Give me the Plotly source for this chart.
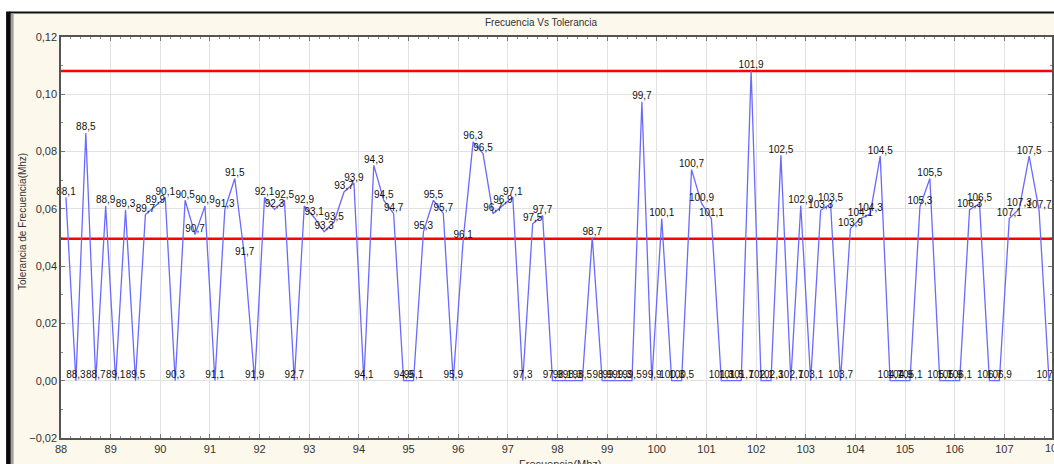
import plotly.graph_objects as go

freq = [88.1, 88.3, 88.5, 88.7, 88.9, 89.1, 89.3, 89.5, 89.7, 89.9,
        90.1, 90.3, 90.5, 90.7, 90.9, 91.1, 91.3, 91.5, 91.7, 91.9,
        92.1, 92.3, 92.5, 92.7, 92.9, 93.1, 93.3, 93.5, 93.7, 93.9,
        94.1, 94.3, 94.5, 94.7, 94.9, 95.1, 95.3, 95.5, 95.7, 95.9,
        96.1, 96.3, 96.5, 96.7, 96.9, 97.1, 97.3, 97.5, 97.7, 97.9,
        98.1, 98.3, 98.5, 98.7, 98.9, 99.1, 99.3, 99.5, 99.7, 99.9,
        100.1, 100.3, 100.5, 100.7, 100.9, 101.1, 101.3, 101.5, 101.7, 101.9,
        102.1, 102.3, 102.5, 102.7, 102.9, 103.1, 103.3, 103.5, 103.7, 103.9,
        104.1, 104.3, 104.5, 104.7, 104.9, 105.1, 105.3, 105.5, 105.7, 105.9,
        106.1, 106.3, 106.5, 106.7, 106.9, 107.1, 107.3, 107.5, 107.7, 107.9]

tolerance = [0.064, 0.0, 0.0865, 0.0, 0.061, 0.0, 0.0597, 0.0, 0.058, 0.061,
             0.064, 0.0, 0.063, 0.051, 0.061, 0.0, 0.0598, 0.0706, 0.043, 0.0,
             0.064, 0.0598, 0.063, 0.0, 0.061, 0.057, 0.052, 0.0554, 0.0659, 0.069,
             0.0, 0.0752, 0.063, 0.0583, 0.0, 0.0, 0.052, 0.063, 0.0584, 0.0,
             0.049, 0.0834, 0.0793, 0.0583, 0.0612, 0.0641, 0.0, 0.0548, 0.0577, 0.0,
             0.0, 0.0, 0.0, 0.0501, 0.0, 0.0, 0.0, 0.0, 0.0974, 0.0,
             0.0566, 0.0, 0.0, 0.0737, 0.062, 0.0566, 0.0, 0.0, 0.0, 0.1082,
             0.0, 0.0, 0.0787, 0.0, 0.0612, 0.0, 0.0595, 0.0618, 0.0, 0.0531,
             0.0566, 0.0583, 0.0784, 0.0, 0.0, 0.0, 0.0607, 0.0706, 0.0, 0.0,
             0.0, 0.0597, 0.0618, 0.0, 0.0, 0.0566, 0.060, 0.0784, 0.0595, 0.0]

upper_limit = 0.1081
lower_limit = 0.0496
limit_x = [88, 108]

x_range = [88, 107.96]
x_ticks = [88, 89, 90, 91, 92, 93, 94, 95, 96, 97, 98, 99, 100, 101, 102, 103, 104, 105, 106, 107]
x_last_tick = 108
y_ticks = [-0.02, 0.0, 0.02, 0.04, 0.06, 0.08, 0.10, 0.12]

point_labels = [f"{f:.1f}".replace(".", ",") for f in freq]

W, H = 1054, 464
L, R, T, B = 61, 0, 37, H - 438
PW, PH = W - L - R, H - T - B


def px(xw):
    return (xw - L) / PW


def py(yw):
    return (H - B - yw) / PH


FONT = "Liberation Sans, Arial, sans-serif"

fig = go.Figure()

fig.add_trace(go.Scatter(
    x=limit_x, y=[upper_limit, upper_limit], mode="lines",
    line=dict(color="#ff0000", width=2.5), hoverinfo="skip", showlegend=False))
fig.add_trace(go.Scatter(
    x=limit_x, y=[lower_limit, lower_limit], mode="lines",
    line=dict(color="#ff0000", width=2.5), hoverinfo="skip", showlegend=False))

fig.add_trace(go.Scatter(
    x=freq, y=tolerance, mode="lines+text",
    text=point_labels, textposition="top center",
    textfont=dict(family=FONT, size=10, color="#111111"),
    line=dict(color="#6a6aff", width=1.3),
    cliponaxis=False, showlegend=False))

shapes = [
    dict(type="rect", xref="paper", yref="paper",
         x0=px(10), x1=px(W + 20), y0=py(H + 20), y1=py(12.5),
         fillcolor="#fdf8ec", line=dict(color="#111111", width=2), layer="below"),
    dict(type="rect", xref="paper", yref="paper",
         x0=0, x1=1, y0=0, y1=1,
         fillcolor="#ffffff", line=dict(width=0), layer="below"),
    dict(type="line", xref="paper", yref="paper",
         x0=px(8), x1=px(8), y0=py(H + 20), y1=py(11.5),
         line=dict(color="#0a0a0a", width=4)),
    dict(type="line", xref="paper", yref="paper",
         x0=px(12), x1=px(12), y0=py(H + 20), y1=py(13.5),
         line=dict(color="#a0a0a0", width=3)),
]

# pixel position of the (partly cut) last tick label, from the axis scale
x_last_px = L + (x_last_tick - x_range[0]) / (x_range[1] - x_range[0]) * PW

annotations = [
    dict(text="Frecuencia Vs Tolerancia", xref="paper", yref="paper",
         x=px(542), y=py(23), xanchor="center", yanchor="middle", showarrow=False,
         font=dict(family=FONT, size=10, color="#333333")),
    dict(text="Tolerancia de Frecuencia(Mhz)", xref="paper", yref="paper",
         x=px(22), y=py(222), xanchor="center", yanchor="middle", showarrow=False,
         textangle=-90, font=dict(family=FONT, size=10, color="#333333")),
    dict(text="Frecuencia(Mhz)", xref="paper", yref="paper",
         x=px(562), y=py(456), xanchor="center", yanchor="top", showarrow=False,
         font=dict(family=FONT, size=11, color="#333333")),
    dict(text=str(x_last_tick), xref="paper", yref="paper",
         x=px(x_last_px), y=py(448), xanchor="center", yanchor="middle", showarrow=False,
         font=dict(family=FONT, size=11, color="#333333")),
]

fig.update_layout(
    width=W, height=H,
    margin=dict(l=L, r=R, t=T, b=B, pad=0),
    paper_bgcolor="#ffffff", plot_bgcolor="#ffffff",
    separators=",.",
    showlegend=False,
    shapes=shapes, annotations=annotations,
    font=dict(family=FONT, size=11, color="#333333"),
    xaxis=dict(
        range=x_range, tickvals=x_ticks, ticktext=[str(v) for v in x_ticks],
        showgrid=True, gridcolor="#e2e2e2", gridwidth=1, zeroline=False,
        showline=True, linecolor="#555555", linewidth=1.5, mirror="ticks",
        ticks="inside", ticklen=4, tickcolor="#777777",
        minor=dict(dtick=0.2, tick0=88, ticks="inside", ticklen=2, tickcolor="#888888", showgrid=False),
        tickfont=dict(family=FONT, size=11, color="#333333"),
        fixedrange=True,
    ),
    yaxis=dict(
        range=[-0.02, 0.12], tickvals=y_ticks, tickformat=".2f",
        showgrid=True, gridcolor="#e2e2e2", gridwidth=1, zeroline=False,
        showline=True, linecolor="#555555", linewidth=1.5, mirror="ticks",
        ticks="inside", ticklen=4, tickcolor="#777777",
        minor=dict(dtick=0.01, ticks="inside", ticklen=2, tickcolor="#888888", showgrid=False),
        tickfont=dict(family=FONT, size=11, color="#333333"),
        fixedrange=True,
    ),
)

fig.write_html(
    "out.html",
    config=dict(displayModeBar=False),
    post_script="document.body.style.margin='0';document.body.style.overflow='hidden';",
)
